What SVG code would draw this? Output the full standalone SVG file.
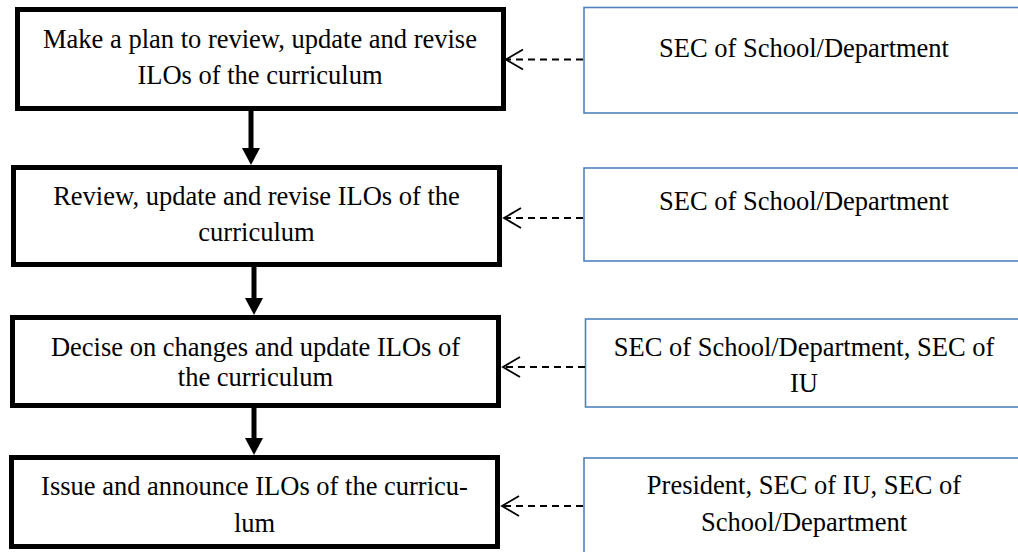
<svg xmlns="http://www.w3.org/2000/svg" width="1018" height="552" viewBox="0 0 1018 552">
<style>
.step{fill:#fff;stroke:#000;stroke-width:5}
.actor{fill:#fff;stroke:#4F81BD;stroke-width:1.6}
text{font-family:"Liberation Serif","Times New Roman",serif;font-size:26.5px;fill:#000;text-anchor:middle}
.flow{stroke:#000;stroke-width:5;fill:none}
.head{fill:#000}
.dash{stroke:#000;stroke-width:1.8;stroke-dasharray:7 5;fill:none}
.chev{stroke:#000;stroke-width:1.8;fill:none}
</style>
<rect width="1018" height="552" fill="#fff"/>
<g id="step1"><rect class="step" x="17.5" y="9.5" width="486" height="99"/><text x="260" y="48">Make a plan to review, update and revise</text><text x="260" y="84">ILOs of the curriculum</text></g>
<g id="step2"><rect class="step" x="13.5" y="167.5" width="486" height="97"/><text x="256.5" y="204.5">Review, update and revise ILOs of the</text><text x="256.5" y="241">curriculum</text></g>
<g id="step3"><rect class="step" x="12.5" y="317.5" width="486" height="88"/><text x="255.5" y="356">Decise on changes and update ILOs of</text><text x="255.5" y="386">the curriculum</text></g>
<g id="step4"><rect class="step" x="11.5" y="457.5" width="486" height="89"/><text x="254.5" y="495">Issue and announce ILOs of the curricu-</text><text x="254.5" y="532">lum</text></g>
<g id="actor1"><rect class="actor" x="584" y="7.5" width="440" height="105.5"/><text x="804" y="57">SEC of School/Department</text></g>
<g id="actor2"><rect class="actor" x="584" y="168" width="440" height="93"/><text x="804" y="210">SEC of School/Department</text></g>
<g id="actor3"><rect class="actor" x="585.5" y="319" width="440" height="88"/><text x="804" y="355.5">SEC of School/Department, SEC of</text><text x="804" y="392">IU</text></g>
<g id="actor4"><rect class="actor" x="584" y="458" width="440" height="100"/><text x="804" y="494">President, SEC of IU, SEC of</text><text x="804" y="530.5">School/Department</text></g>
<g id="connectors">
<line class="flow" x1="251" y1="111" x2="251" y2="150"/><polygon class="head" points="242,148 260,148 251,165"/>
<line class="flow" x1="254" y1="267" x2="254" y2="300"/><polygon class="head" points="245,298 263,298 254,315"/>
<line class="flow" x1="254" y1="408" x2="254" y2="440"/><polygon class="head" points="245,438 263,438 254,455"/>
<line class="dash" x1="583" y1="59.5" x2="507" y2="59.5"/><polyline class="chev" points="523,49.5 506,59.5 523,69.5"/>
<line class="dash" x1="583" y1="218" x2="505" y2="218"/><polyline class="chev" points="521,208 504,218 521,228"/>
<line class="dash" x1="585" y1="367" x2="504" y2="367"/><polyline class="chev" points="520,357 503,367 520,377"/>
<line class="dash" x1="583" y1="506" x2="503" y2="506"/><polyline class="chev" points="519,496 502,506 519,516"/>
</g>
</svg>
